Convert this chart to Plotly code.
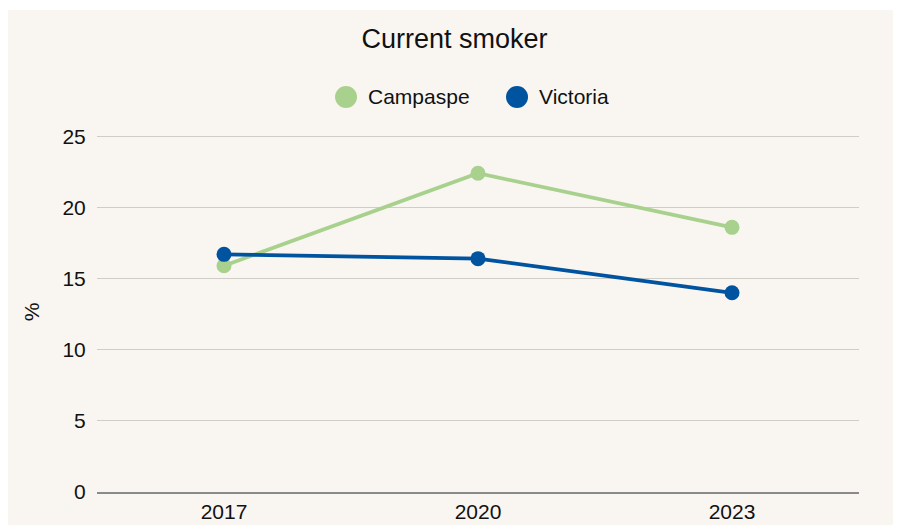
import plotly.graph_objects as go

years = ["2017", "2020", "2023"]
series_names = ["Campaspe", "Victoria"]
campaspe = [15.9, 22.4, 18.6]
victoria = [16.7, 16.4, 14.0]

green = "#a9d18e"
blue = "#00539f"
bg = "#f9f6f2"
font = "Liberation Sans, Arial, sans-serif"

fig = go.Figure()

fig.add_trace(go.Scatter(x=years, y=campaspe, mode="lines+markers", name=series_names[0],
                         line=dict(color=green, width=3.8), marker=dict(size=15, color=green),
                         showlegend=False))
fig.add_trace(go.Scatter(x=years, y=victoria, mode="lines+markers", name=series_names[1],
                         line=dict(color=blue, width=3.8), marker=dict(size=15, color=blue),
                         showlegend=False))

# plot area is 360px tall now (517 - 124 - 33)
ph = 360.0

# background panel, white strip on top like the source image
fig.add_shape(type="rect", xref="paper", yref="paper", x0=-0.2, x1=1.1, y0=-0.2,
              y1=1 + 122 / ph, fillcolor=bg, line_width=0, layer="below")

# legend drawn by hand so the dots can be bigger than plotly's 16px cap
leg_x = [0.3268, 0.5512]
leg_y = 1 + 35 / ph
for name, col, lx in zip(series_names, [green, blue], leg_x):
    fig.add_shape(type="circle", xref="paper", yref="paper", xsizemode="pixel", ysizemode="pixel",
                  xanchor=lx, yanchor=leg_y, x0=-11, x1=11, y0=-11, y1=11,
                  fillcolor=col, line_width=0)
    fig.add_annotation(text=name, xref="paper", yref="paper", x=lx + 0.026, y=leg_y,
                       xanchor="left", yanchor="middle", showarrow=False,
                       font=dict(size=21, color="#111111"))

fig.update_layout(
    width=893, height=517,
    paper_bgcolor="white", plot_bgcolor=bg,
    margin=dict(l=89, r=42, t=124, b=33),
    font=dict(family=font, size=21, color="#111111"),
    title=dict(text="Current smoker", x=0.5, xanchor="center", y=0.94, yanchor="middle",
               font=dict(size=27, color="#111111")),
    showlegend=False,
    xaxis=dict(type="category", range=[-0.5, 2.5], showgrid=False, zeroline=False,
               showline=True, linecolor="#8a8a8a", linewidth=1.5, ticks="",
               tickfont=dict(size=21), automargin=False),
    yaxis=dict(range=[0, 25.3], tickvals=[0, 5, 10, 15, 20, 25], showgrid=True,
               gridcolor="#d0ccc6", gridwidth=1, zeroline=False, showline=False,
               ticks="outside", ticklen=6, tickcolor="rgba(0,0,0,0)", tickfont=dict(size=21),
               title=dict(text="%", font=dict(size=21), standoff=17), automargin=False),
)

fig.write_html("out.html")
